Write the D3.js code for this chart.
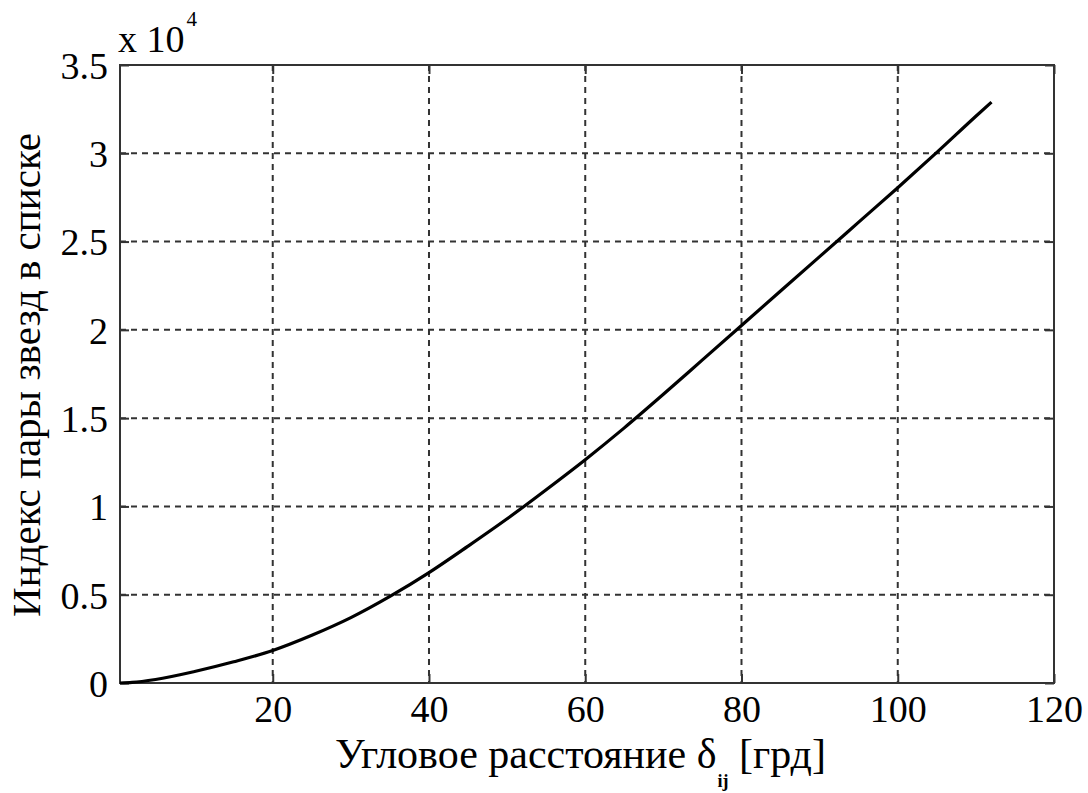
<!DOCTYPE html>
<html><head><meta charset="utf-8">
<script src="https://cdn.jsdelivr.net/npm/d3@7"></script>
<style>
html,body{margin:0;padding:0;background:#fff;}
text{font-family:"Liberation Serif","Times New Roman",serif;}
</style></head>
<body>
<svg id="chart" width="1088" height="793"></svg>
<script>
// Data (y values in units of 10^4)
const angleDeg = [0.45, 2, 5, 10, 15, 20, 25, 30, 35, 40, 45, 50, 55, 60, 65, 70, 75, 80, 85, 90, 95, 100, 105, 110, 112];
const pairIndex = [0, 0.003, 0.02, 0.065, 0.12, 0.184, 0.27, 0.37, 0.49, 0.625, 0.775, 0.93, 1.095, 1.265, 1.445, 1.635, 1.83, 2.025, 2.22, 2.415, 2.61, 2.805, 3.005, 3.21, 3.29];
const xTicks = [20, 40, 60, 80, 100, 120];
const yTicks = [0, 0.5, 1, 1.5, 2, 2.5, 3, 3.5];
const xDomain = [0.45, 120];
const yDomain = [0, 3.5];

const svg = d3.select("#chart");
const L = 120, R = 1054, T = 65, B = 683;
const x = d3.scaleLinear().domain(xDomain).range([L, R]);
const y = d3.scaleLinear().domain(yDomain).range([B, T]);

const gridColor = "#333";
const grid = svg.append("g");
grid.selectAll("line.v").data(xTicks.filter(d => d < xDomain[1])).enter().append("line")
  .attr("x1", d => x(d)).attr("x2", d => x(d)).attr("y1", T).attr("y2", B)
  .attr("stroke", gridColor).attr("stroke-width", 2).attr("stroke-dasharray", "6,5");
grid.selectAll("line.h").data(yTicks.filter(d => d > yDomain[0] && d < yDomain[1])).enter().append("line")
  .attr("x1", L).attr("x2", R).attr("y1", d => y(d)).attr("y2", d => y(d))
  .attr("stroke", gridColor).attr("stroke-width", 2).attr("stroke-dasharray", "6,5");

const fs = "38px";
const fmt = d => String(d);
const xAxis = svg.append("g").attr("transform", `translate(0,${B})`)
  .call(d3.axisBottom(x).tickValues(xTicks).tickSize(-9).tickPadding(12).tickFormat(fmt));
const xAxisTop = svg.append("g").attr("transform", `translate(0,${T})`)
  .call(d3.axisTop(x).tickValues(xTicks).tickSize(-9).tickFormat(""));
const yAxis = svg.append("g").attr("transform", `translate(${L},0)`)
  .call(d3.axisLeft(y).tickValues(yTicks).tickSize(-9).tickPadding(12).tickFormat(fmt));
const yAxisRight = svg.append("g").attr("transform", `translate(${R},0)`)
  .call(d3.axisRight(y).tickValues(yTicks).tickSize(-9).tickFormat(""));
[xAxis, xAxisTop, yAxis, yAxisRight].forEach(g => {
  g.select(".domain").remove();
  g.selectAll(".tick line").attr("stroke", "#333").attr("stroke-width", 2);
  g.selectAll("text").attr("font-size", fs).attr("fill", "#000")
    .style("font-family", '"Liberation Serif", serif');
});
xAxis.selectAll("text").attr("dy", "0.71em");
yAxis.selectAll("text").attr("dy", "0.35em");

svg.append("rect").attr("x", L).attr("y", T).attr("width", R - L).attr("height", B - T)
  .attr("fill", "none").attr("stroke", "#333").attr("stroke-width", 2);

const line = d3.line().x((d, i) => x(angleDeg[i])).y(d => y(d)).curve(d3.curveMonotoneX);
svg.append("path").datum(pairIndex).attr("d", line)
  .attr("fill", "none").attr("stroke", "#000").attr("stroke-width", 3.2)
  .attr("stroke-linejoin", "round");

const ex = svg.append("text").attr("x", 118).attr("y", 52).attr("font-size", fs).attr("fill", "#000");
ex.append("tspan").text("x 10");
ex.append("tspan").attr("font-size", "21px").attr("dy", -26).attr("dx", 2).text("4");

const xl = svg.append("text").attr("x", 335).attr("y", 768).attr("font-size", "42px").attr("fill", "#000");
xl.append("tspan").text("Угловое расстояние δ");
xl.append("tspan").attr("font-size", "18px").attr("font-weight", "bold").attr("dy", 19).attr("dx", 1).text("ij");
xl.append("tspan").attr("dy", -19).text(" [грд]");

svg.append("text").attr("transform", `translate(40,375) rotate(-90)`)
  .attr("text-anchor", "middle").attr("font-size", "41px").attr("fill", "#000")
  .text("Индекс пары звезд в списке");
</script>
</body></html>
